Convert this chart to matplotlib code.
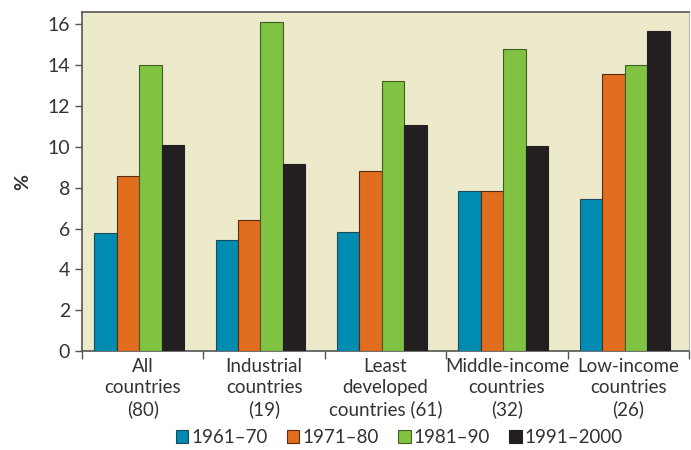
import matplotlib.pyplot as plt
import numpy as np
from matplotlib.patches import Patch

plt.rcParams['font.family'] = ['Lato', 'DejaVu Sans']

# Data
groups = ["All\ncountries\n(80)", "Industrial\ncountries\n(19)", "Least\ndeveloped\ncountries (61)",
          "Middle-income\ncountries\n(32)", "Low-income\ncountries\n(26)"]
periods = ["1961\u201370", "1971\u201380", "1981\u201390", "1991\u20132000"]
v_1961_70 = [5.8, 5.45, 5.85, 7.85, 7.45]
v_1971_80 = [8.55, 6.4, 8.8, 7.85, 13.55]
v_1981_90 = [14.0, 16.1, 13.25, 14.8, 14.0]
v_1991_2000 = [10.1, 9.15, 11.05, 10.05, 15.7]
series = [v_1961_70, v_1971_80, v_1981_90, v_1991_2000]
colors = ["#008bb0", "#e06e1e", "#80c242", "#231f20"]
edges = ["#1d4a5a", "#5a2a0c", "#3f5e22", "#231f20"]

text_col = "#333333"
bg = "#ede9cb"

fig = plt.figure(figsize=(6.91, 4.5), dpi=100)
ax = fig.add_axes([0.1187, 0.22, 0.8785, 0.753])
ax.set_facecolor(bg)

x = np.arange(len(groups))
w = 0.185
for i, (vals, c, e) in enumerate(zip(series, colors, edges)):
    ax.bar(x + (i - 1.5) * w - 0.03, vals, w, color=c, edgecolor=e, linewidth=0.8,
           label=periods[i], zorder=3)

ax.set_xlim(-0.5, len(groups) - 0.5)
ax.set_ylim(0, 16.6)
ax.set_yticks(np.arange(0, 17, 2))

ax.set_xticks(x)
ax.set_xticklabels(groups, fontsize=13.5, color=text_col, linespacing=1.3)
ax.set_xticks(np.arange(-0.5, len(groups), 1), minor=True)
ax.tick_params(axis='x', which='major', length=0, pad=5)
ax.tick_params(axis='x', which='minor', length=6, width=1, color="#555555", direction='out')
ax.tick_params(axis='y', labelsize=14, labelcolor=text_col, length=5, width=1, color="#555555")

for side in ['left', 'bottom', 'top']:
    ax.spines[side].set_color("#555555")
    ax.spines[side].set_linewidth(1.2)
ax.spines['right'].set_color("#bbbbaa")

ax.set_ylabel("%", fontsize=14, fontweight='bold', color=text_col, labelpad=12)

handles = [Patch(facecolor=c, edgecolor=e, linewidth=0.8) for c, e in zip(colors, edges)]
fig.legend(handles, periods, loc='center', bbox_to_anchor=(0.578, 0.028), ncol=4,
           frameon=False, fontsize=13.5, handlelength=0.65, handleheight=0.65,
           handletextpad=0.15, columnspacing=1.05, labelcolor=text_col)

fig.savefig("out.png", dpi=100)
